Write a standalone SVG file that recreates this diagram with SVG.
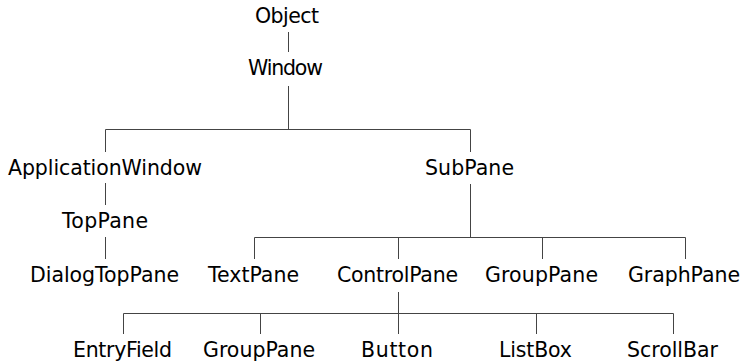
<svg xmlns="http://www.w3.org/2000/svg" width="741" height="364" viewBox="0 0 741 364">
<style>
text{font-family:"DejaVu Sans",sans-serif;font-size:20.5px;fill:#000;text-anchor:middle}
.c path{fill:none;stroke:#444;stroke-width:1}
</style>
<rect width="741" height="364" fill="#fff"/>
<g class="c" id="connectors">
<path d="M288.5 32V52"/>
<path d="M288.5 86V129.5M105.5 129.5H470.5M105.5 129.5V152M470.5 129.5V152"/>
<path d="M105.5 183V205"/>
<path d="M105.5 237V259"/>
<path d="M470.5 184V237.5M254.5 237.5H685.5M254.5 237.5V259M398.5 237.5V259M542.5 237.5V259M685.5 237.5V259"/>
<path d="M398.5 292V313.5M123.5 313.5H673.5M123.5 313.5V334M260.5 313.5V334M398.5 313.5V334M536.5 313.5V334M673.5 313.5V334"/>
</g>
<g id="n-object"><text x="287" y="23" textLength="64" lengthAdjust="spacing">Object</text></g>
<g id="n-window"><text x="285.5" y="75" textLength="75" lengthAdjust="spacing">Window</text></g>
<g id="n-applicationwindow"><text x="105" y="175" textLength="194" lengthAdjust="spacing">ApplicationWindow</text></g>
<g id="n-subpane"><text x="469.5" y="175" textLength="89" lengthAdjust="spacing">SubPane</text></g>
<g id="n-toppane"><text x="105" y="228" textLength="86" lengthAdjust="spacing">TopPane</text></g>
<g id="n-dialogtoppane"><text x="104.5" y="282" textLength="149" lengthAdjust="spacing">DialogTopPane</text></g>
<g id="n-textpane"><text x="253.5" y="282" textLength="91" lengthAdjust="spacing">TextPane</text></g>
<g id="n-controlpane"><text x="397.5" y="282" textLength="121" lengthAdjust="spacing">ControlPane</text></g>
<g id="n-grouppane1"><text x="541.5" y="282" textLength="113" lengthAdjust="spacing">GroupPane</text></g>
<g id="n-graphpane"><text x="684" y="282" textLength="112" lengthAdjust="spacing">GraphPane</text></g>
<g id="n-entryfield"><text x="122.5" y="357" textLength="99" lengthAdjust="spacing">EntryField</text></g>
<g id="n-grouppane2"><text x="259" y="357" textLength="112" lengthAdjust="spacing">GroupPane</text></g>
<g id="n-button"><text x="397" y="357" textLength="72" lengthAdjust="spacing">Button</text></g>
<g id="n-listbox"><text x="535.5" y="357" textLength="73" lengthAdjust="spacing">ListBox</text></g>
<g id="n-scrollbar"><text x="672.5" y="357" textLength="91" lengthAdjust="spacing">ScrollBar</text></g>
</svg>
